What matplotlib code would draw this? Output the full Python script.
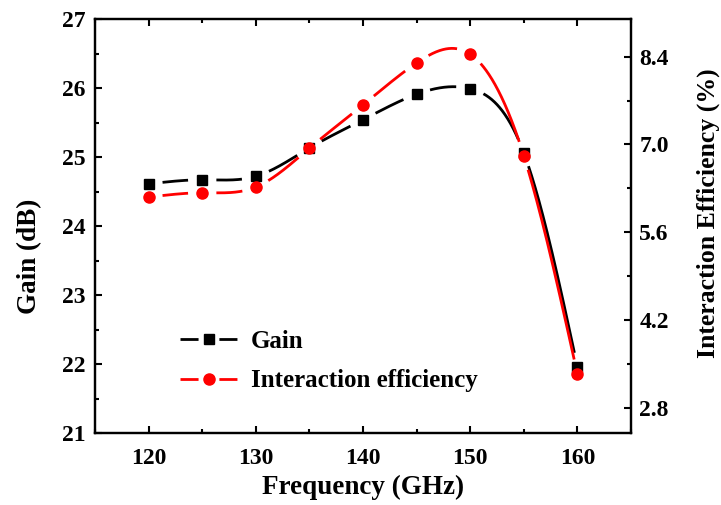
import numpy as np
import matplotlib
matplotlib.use("Agg")
import matplotlib.pyplot as plt
from matplotlib.lines import Line2D
from matplotlib.ticker import MultipleLocator, FixedLocator

# Measured data
freq = np.array([120, 125, 130, 135, 140, 145, 150, 155, 160], dtype=float)
gain = np.array([24.61, 24.67, 24.72, 25.13, 25.54, 25.91, 25.99, 25.06, 21.96])
efficiency = np.array([6.16, 6.23, 6.32, 6.94, 7.63, 8.30, 8.44, 6.82, 3.34])

plt.rcParams['font.family'] = ['Liberation Serif', 'DejaVu Serif']
plt.rcParams['font.weight'] = 'bold'
plt.rcParams['lines.scale_dashes'] = False


def natural_spline(x, y, xs):
    # plain natural cubic spline through the points
    n = len(x)
    h = np.diff(x)
    A = np.zeros((n, n))
    rhs = np.zeros(n)
    A[0, 0] = A[-1, -1] = 1.0
    for i in range(1, n - 1):
        A[i, i - 1] = h[i - 1]
        A[i, i] = 2 * (h[i - 1] + h[i])
        A[i, i + 1] = h[i]
        rhs[i] = 6 * ((y[i + 1] - y[i]) / h[i] - (y[i] - y[i - 1]) / h[i - 1])
    M = np.linalg.solve(A, rhs)
    idx = np.clip(np.searchsorted(x, xs) - 1, 0, n - 2)
    x0, x1 = x[idx], x[idx + 1]
    hh = x1 - x0
    t0, t1 = x1 - xs, xs - x0
    return ((M[idx] * t0 ** 3 + M[idx + 1] * t1 ** 3) / (6 * hh)
            + (y[idx] / hh - M[idx] * hh / 6) * t0
            + (y[idx + 1] / hh - M[idx + 1] * hh / 6) * t1)


def gapped_curve(axis, x, y, gap_px=14.0):
    # smooth curve with the part around each marker cut out
    xs = np.linspace(x[0], x[-1], 2000)
    ys = natural_spline(x, y, xs)
    pts = axis.transData.transform(np.column_stack([xs, ys]))
    marks = axis.transData.transform(np.column_stack([x, y]))
    d = np.min(np.hypot(pts[:, None, 0] - marks[None, :, 0],
                        pts[:, None, 1] - marks[None, :, 1]), axis=1)
    ys = ys.copy()
    ys[d < gap_px] = np.nan
    return xs, ys


fig = plt.figure(figsize=(7.21, 5.05), dpi=100)
ax = fig.add_axes([95 / 721, 1 - 433 / 505, 536 / 721, 414 / 505])
ax2 = ax.twinx()

ax.set_xlim(115, 165)
ax.set_ylim(21, 27)
ax2.set_ylim(2.4, 9.0)

lw = 2.0
xs, ys = gapped_curve(ax, freq, gain)
ax.plot(xs, ys, color='black', lw=lw, solid_capstyle='butt')
ax.plot(freq, gain, ls='none', marker='s', ms=7.2, color='black')

xs2, ys2 = gapped_curve(ax2, freq, efficiency)
ax2.plot(xs2, ys2, color='red', lw=lw, solid_capstyle='butt')
ax2.plot(freq, efficiency, ls='none', marker='o', ms=8, color='red')

# axes styling
ax.xaxis.set_major_locator(MultipleLocator(10))
ax.xaxis.set_minor_locator(MultipleLocator(5))
ax.yaxis.set_major_locator(MultipleLocator(1))
ax.yaxis.set_minor_locator(MultipleLocator(0.5))
ax2.yaxis.set_major_locator(FixedLocator([2.8, 4.2, 5.6, 7.0, 8.4]))
ax2.yaxis.set_minor_locator(FixedLocator([3.5, 4.9, 6.3, 7.7]))
ax2.yaxis.set_major_formatter(plt.FormatStrFormatter('%.1f'))

for a in (ax, ax2):
    for s in a.spines.values():
        s.set_linewidth(1.6)
ax.tick_params(which='both', direction='in', top=True, right=False, width=1.5,
               labelsize=17)
ax.tick_params(which='major', length=5)
ax.tick_params(which='minor', length=3)
ax.tick_params(axis='x', pad=11)
ax.tick_params(axis='y', pad=7)
ax2.tick_params(which='both', direction='in', width=1.5, labelsize=17, pad=6)
ax2.tick_params(which='major', length=5)
ax2.tick_params(which='minor', length=3)

ax.set_xlabel('Frequency (GHz)', fontsize=19.5, fontweight='bold', labelpad=4)
fig.text(30 / 721, 1 - 256 / 505, 'Gain (dB)', rotation=90,
         ha='center', va='center', fontsize=19.5, fontweight='bold')
fig.text(708 / 721, 1 - 213 / 505, 'Interaction Efficiency (%)', rotation=90,
         ha='center', va='center', fontsize=18.5, fontweight='bold')

handles = [
    Line2D([], [], color='black', lw=lw, marker='s', ms=7.2, dashes=(13, 15)),
    Line2D([], [], color='red', lw=lw, marker='o', ms=8, dashes=(13, 15)),
]
ax.legend(handles, ['Gain', 'Interaction efficiency'], loc='upper left',
          bbox_to_anchor=(180 / 721, 1 - 330 / 505), bbox_transform=fig.transFigure,
          frameon=False, fontsize=18, handlelength=2.35, handletextpad=0.5,
          borderpad=0, borderaxespad=0, labelspacing=0.65, numpoints=1)

fig.savefig('out.png', dpi=100)
